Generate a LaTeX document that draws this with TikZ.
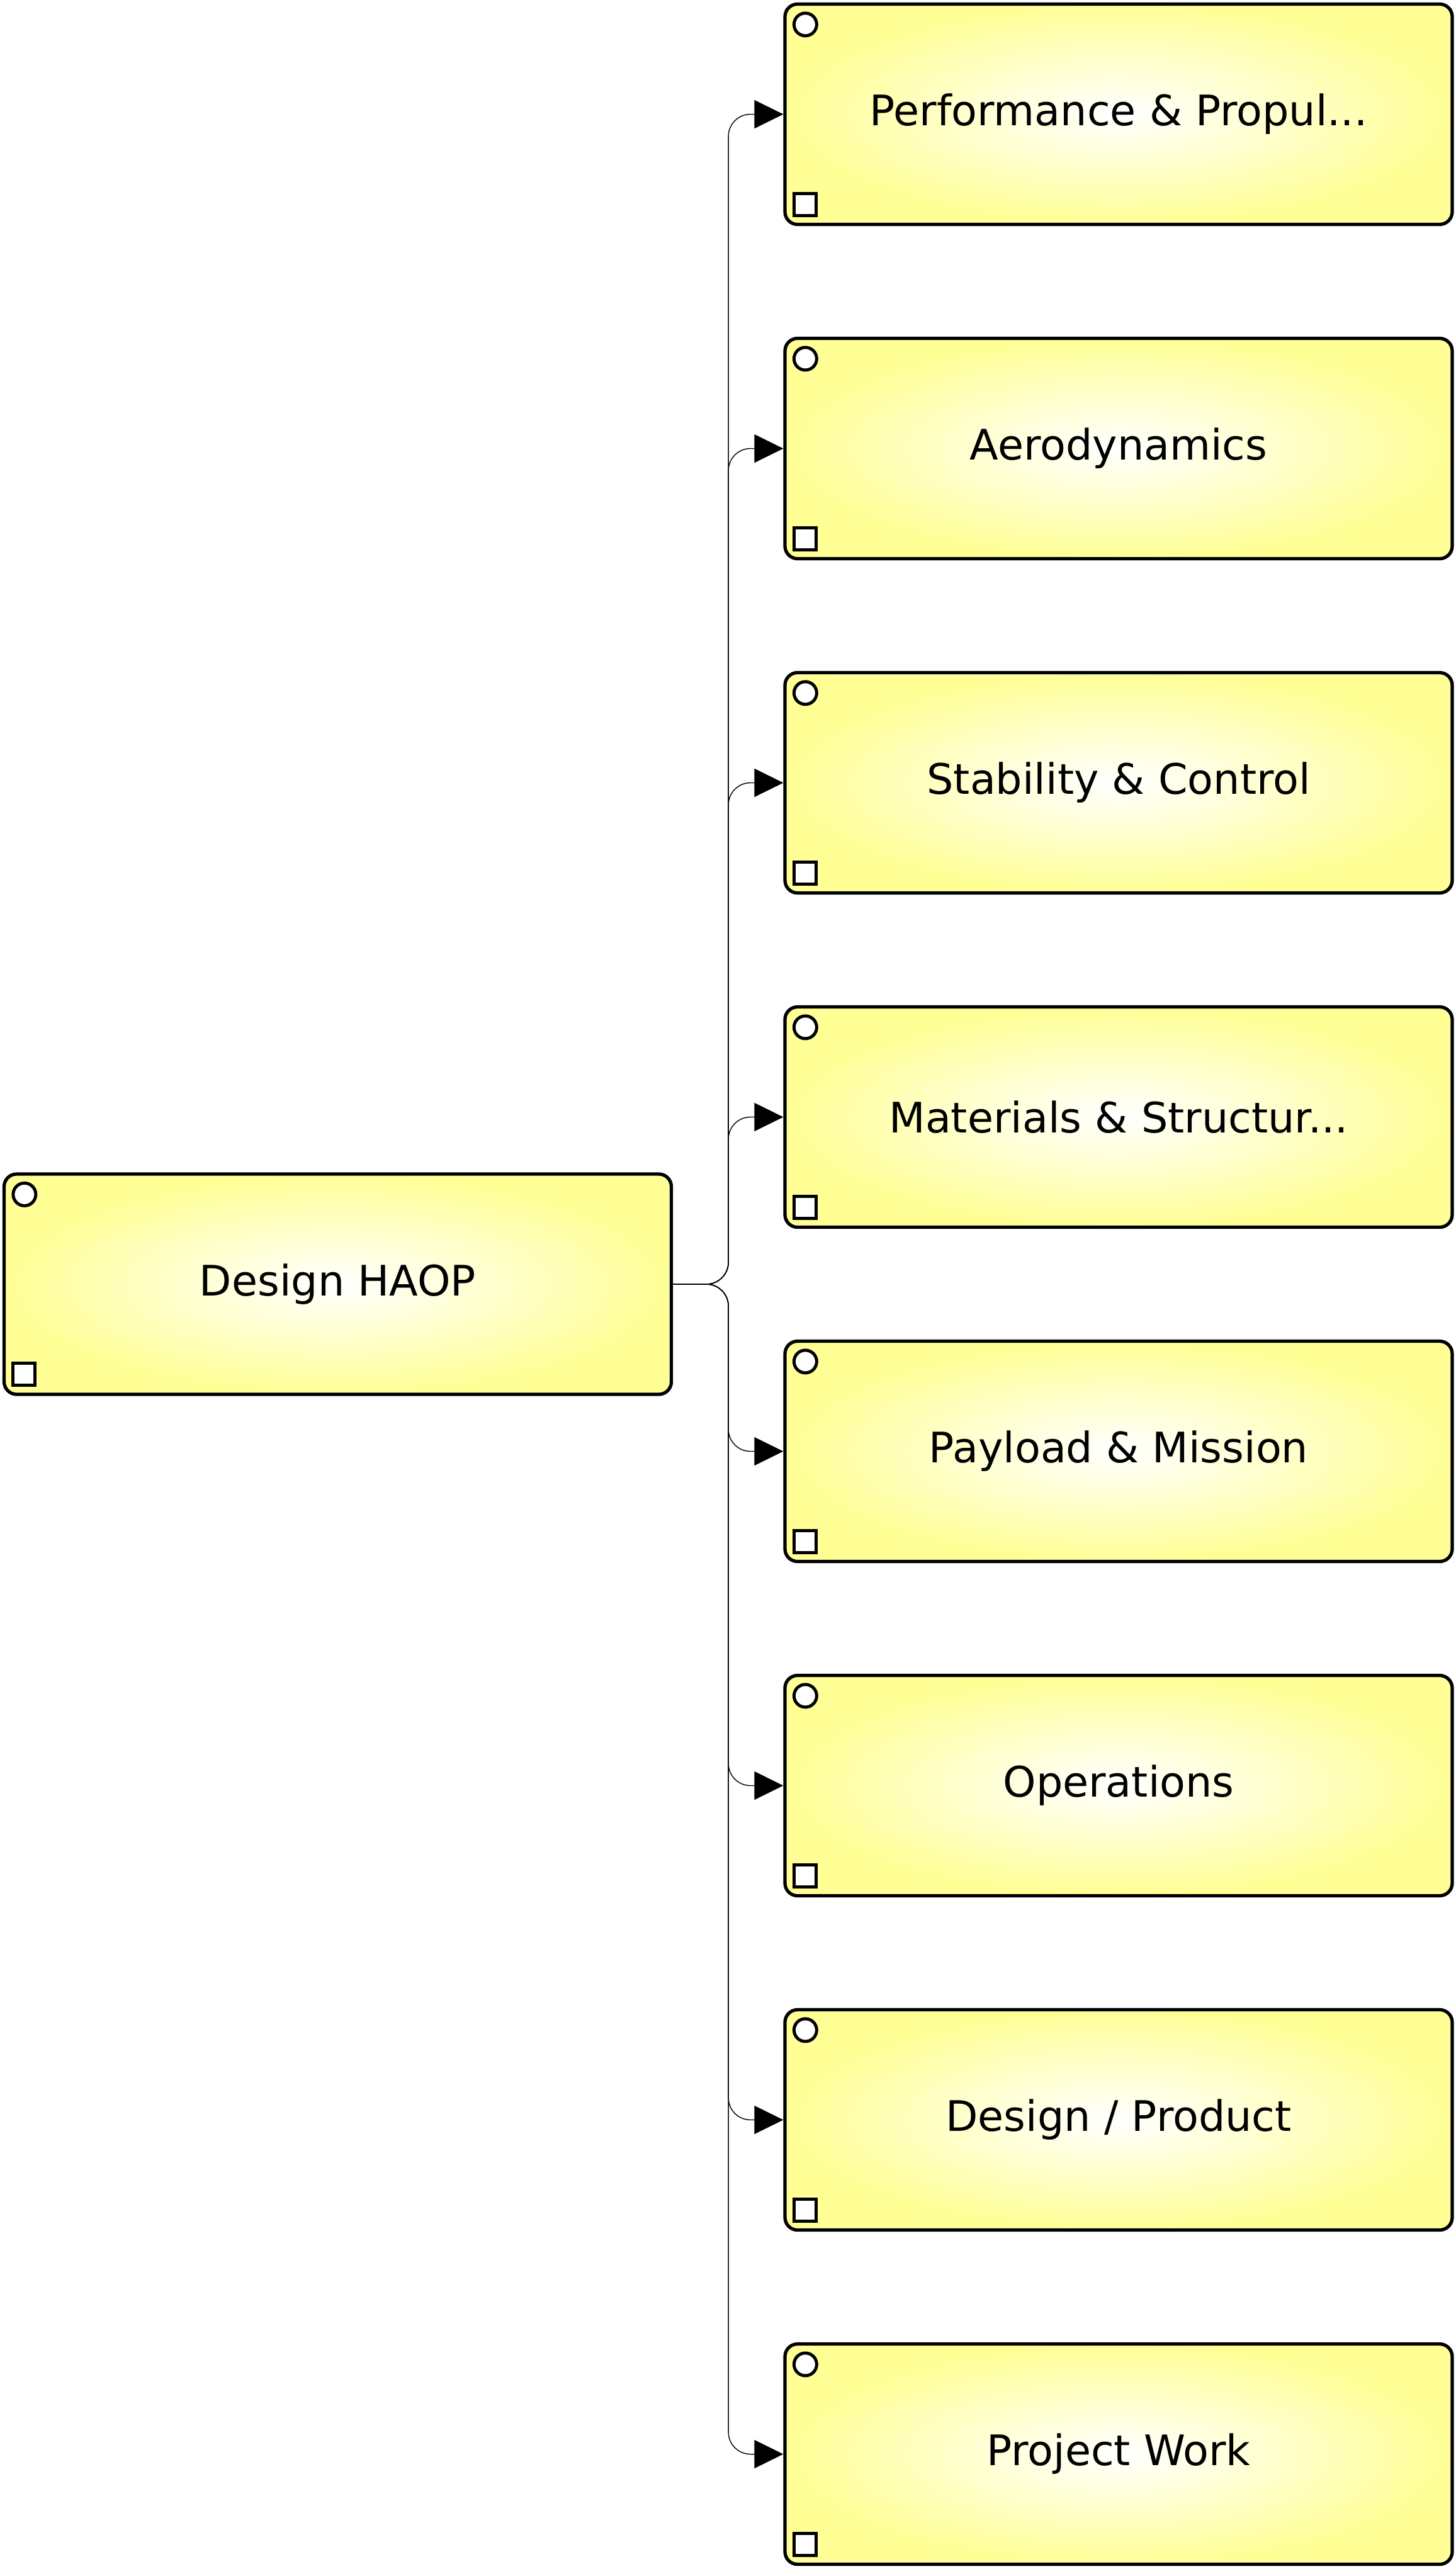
\documentclass[tikz,border=0pt]{standalone}
\usepackage{fontspec}
\setmainfont{DejaVu Sans}
\usepackage{xcolor}
\usetikzlibrary{calc}
\usetikzlibrary{arrows.meta}

\definecolor{taskyellow}{RGB}{255,255,150}

\tikzset{
  task/.style={draw, line width=1.5pt, rounded corners=0.2cm,
    minimum width=10.6cm, minimum height=3.5cm,
    inner color=white, outer color=taskyellow,
    font=\fontsize{19}{22}\selectfont},
  port/.style={draw, fill=white, line width=1.4pt},
  flow/.style={line width=0.4pt, rounded corners=0.35cm,
    -{Triangle[length=0.46cm,width=0.45cm]}},
}

\begin{document}
\begin{tikzpicture}
  \useasboundingbox (0,0) rectangle (23.13,-40.81);

  % Parent task
  \node[task] (main) at (5.365,-20.40) {Design HAOP};

  % Sub tasks
  \foreach \i/\lbl in {
    1/{Performance \& Propul...}, 2/Aerodynamics, 3/{Stability \& Control},
    4/{Materials \& Structur...}, 5/{Payload \& Mission}, 6/Operations,
    7/{Design / Product}, 8/{Project Work}
  }{
    \node[task] (b\i) at (17.77,{-1.815-5.31*(\i-1)}) {\lbl};
  }

  % Circle and square markers in the corners
  \foreach \n in {main,b1,b2,b3,b4,b5,b6,b7,b8}{
    \draw[port] ($(\n.north west)+(0.35,-0.35)$) circle (0.18);
    \draw[port] ($(\n.south west)+(0.17,0.17)$) rectangle ++(0.35,0.35);
  }

  % Connectors
  \foreach \i in {1,...,8}{
    \draw[flow] (main.east) -- ++(0.88,0) |- (b\i.west);
  }
\end{tikzpicture}
\end{document}
